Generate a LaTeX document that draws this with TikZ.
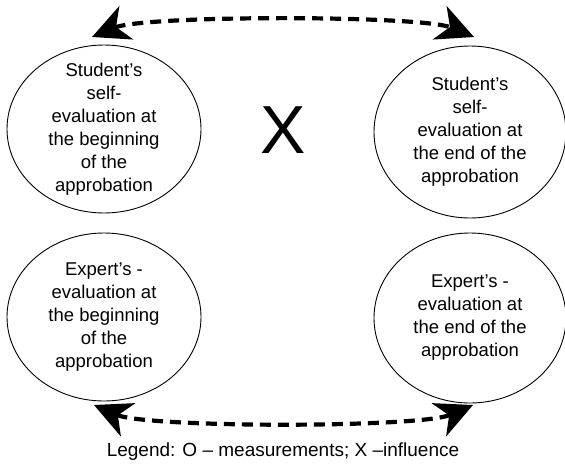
\documentclass[tikz,border=0pt]{standalone}
\usepackage{fontspec}
\setmainfont{Liberation Sans}
\usetikzlibrary{arrows.meta,shapes.geometric}
\tikzset{bigtip/.tip={Stealth[length=37pt,width=36pt,inset=11pt]}}
\begin{document}
\begin{tikzpicture}[x=1pt,y=-1pt,
  oval/.style={draw, line width=0.9pt, ellipse, inner sep=0pt, minimum width=#1},
  ovaltext/.style={align=center, inner sep=0pt, font=\fontsize{18.5}{23}\selectfont},
  conn/.style={line width=4.2pt, dash pattern=on 11pt off 7pt, {bigtip}-{bigtip}}]
\fill[white] (0,0) rectangle (565,469);
\useasboundingbox (0,0) rectangle (565,469);
% ellipses
\node[oval=194pt, minimum height=168pt] (tl) at (104,129) {};
\node[oval=192pt, minimum height=172pt] (tr) at (470,132) {};
\node[oval=194pt, minimum height=168pt] (bl) at (104,317) {};
\node[oval=192pt, minimum height=170pt] (br) at (470,318) {};
\node[ovaltext] (tlt) at (tl.center) {Student’s\\self-\\evaluation at\\the beginning\\of the\\approbation};
\node[ovaltext] (trt) at (tr.center) {Student’s\\self-\\evaluation at\\the end of the\\approbation};
\node[ovaltext] (blt) at (bl.center) {Expert’s -\\evaluation at\\the beginning\\of the\\approbation};
\node[ovaltext] (brt) at (br.center) {Expert’s -\\evaluation at\\the end of the\\approbation};
% X
\node[inner sep=0pt, font=\fontsize{68}{68}\selectfont] (x) at (283,130) {X};
% arrows
\coordinate (a1) at (92,37);
\coordinate (a2) at (474,37);
\coordinate (b1) at (94,405);
\coordinate (b2) at (473,405);
\draw[conn] (a1) .. controls (145,15) and (421,15) .. (a2);
\draw[conn] (b1) .. controls (147,428) and (420,428) .. (b2);
% legend
\node[inner sep=0pt, font=\fontsize{19}{23}\selectfont] (leg) at (283,452) {Legend: O – measurements; X –influence};
\end{tikzpicture}
\end{document}
